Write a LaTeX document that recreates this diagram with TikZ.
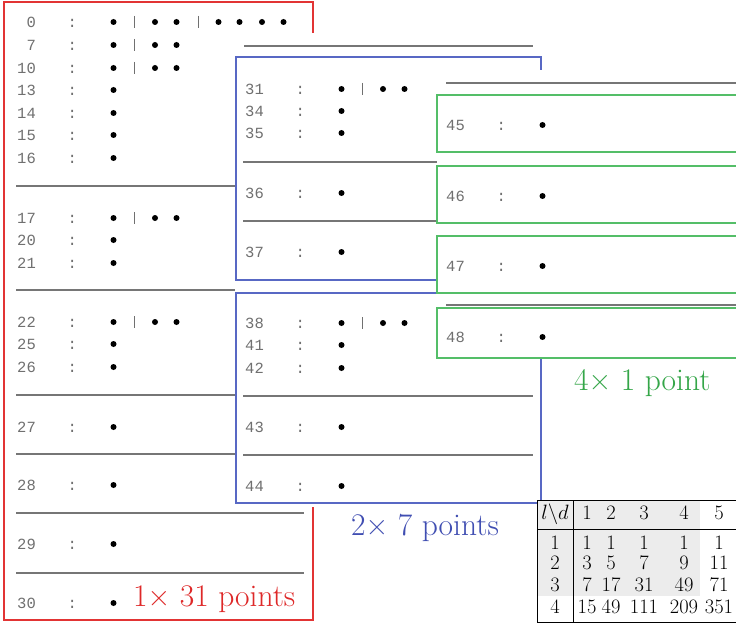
\documentclass[tikz,border=0pt]{standalone}
\usepackage{fontspec}
\newfontfamily\monof{Liberation Mono}
\definecolor{myred}{RGB}{226,52,52}
\definecolor{myredtext}{RGB}{222,40,40}
\definecolor{myblue}{RGB}{88,104,196}
\definecolor{mybluetext}{RGB}{64,78,178}
\definecolor{mygreen}{RGB}{84,190,104}
\definecolor{mygreentext}{RGB}{52,166,72}
\definecolor{monogray}{RGB}{112,112,112}
\definecolor{linegray}{RGB}{118,118,118}
\definecolor{tabshade}{RGB}{236,236,236}
\tikzset{
  mono/.style={inner sep=0pt, anchor=west, text=monogray, font=\monof\fontsize{15.5}{18}\selectfont},
  sepline/.style={draw=linegray, line width=1.8pt},
  barline/.style={draw=monogray, line width=0.9pt},
  redbox/.style={draw=myred, line width=1.6pt},
  bluebox/.style={draw=myblue, line width=1.6pt},
  greenbox/.style={draw=mygreen, line width=2pt},
  biglabel/.style={inner sep=0pt, anchor=base west, font=\fontsize{31.5}{36}\selectfont},
  tab/.style={inner sep=0pt, anchor=base, font=\fontsize{20.5}{24}\selectfont},
  tabrule/.style={draw=black, line width=0.8pt},
}
\newcommand\mrow[4]{%
  \node[mono] (#3) at (#1,#2) {\makebox[50.5pt][l]{#4}:};
  \fill (#1,#2) ++(96.5,0) circle (3pt);}
\newcommand\mgrp[2]{%
  \draw[barline] (#1,#2) ++(117,-6) -- ++(0,12);
  \fill (#1,#2) ++(138,0) circle (3pt);
  \fill (#1,#2) ++(159.5,0) circle (3pt);}
\begin{document}
\begin{tikzpicture}[x=1pt,y=-1pt]
\useasboundingbox (0,0) rectangle (736,623);
\fill[white] (0,0) rectangle (736,623);
% ---------- left panel (red)
\draw[redbox] (4,2) rectangle (313,620);
\mrow{17}{22}{l0}{\phantom{0}0}\mgrp{17}{22}
\draw[barline] (17,22) ++(181,-6) -- ++(0,12);
\fill (17,22) ++(201.5,0) circle (3pt);
\fill (17,22) ++(222.5,0) circle (3pt);
\fill (17,22) ++(245,0) circle (3pt);
\fill (17,22) ++(266.5,0) circle (3pt);
\mrow{17}{45}{l7}{\phantom{0}7}\mgrp{17}{45}
\mrow{17}{68}{l10}{10}\mgrp{17}{68}
\mrow{17}{90}{l13}{13}
\mrow{17}{113}{l14}{14}
\mrow{17}{135}{l15}{15}
\mrow{17}{158}{l16}{16}
\draw[sepline] (16,186) -- (235,186);
\mrow{17}{218}{l17}{17}\mgrp{17}{218}
\mrow{17}{240}{l20}{20}
\mrow{17}{263}{l21}{21}
\draw[sepline] (16,290) -- (235,290);
\mrow{17}{322}{l22}{22}\mgrp{17}{322}
\mrow{17}{344}{l25}{25}
\mrow{17}{367}{l26}{26}
\draw[sepline] (16,395) -- (235,395);
\mrow{17}{427}{l27}{27}
\draw[sepline] (16,454) -- (235,454);
\mrow{17}{485}{l28}{28}
\draw[sepline] (16,513) -- (304,513);
\mrow{17}{544}{l29}{29}
\draw[sepline] (16,573) -- (304,573);
\mrow{17}{603}{l30}{30}
\node[biglabel, text=myredtext] (lab1) at (133,606) {1× 31 points};
% ---------- middle panel (blue)
\fill[white] (236,33) rectangle (545,507);
\draw[sepline] (244,46) -- (533,46);
\draw[bluebox] (236,57) rectangle (541,280);
\mrow{245}{89}{m31}{31}\mgrp{245}{89}
\mrow{245}{111}{m34}{34}
\mrow{245}{133}{m35}{35}
\draw[sepline] (243,162) -- (533,162);
\mrow{245}{193}{m36}{36}
\draw[sepline] (243,221) -- (533,221);
\mrow{245}{252}{m37}{37}
\draw[bluebox] (236,293) rectangle (541,503);
\mrow{245}{323}{m38}{38}\mgrp{245}{323}
\mrow{245}{345}{m41}{41}
\mrow{245}{368}{m42}{42}
\draw[sepline] (243,396) -- (533,396);
\mrow{245}{427}{m43}{43}
\draw[sepline] (243,455) -- (533,455);
\mrow{245}{486}{m44}{44}
\node[biglabel, text=mybluetext] (lab2) at (351,535) {2× 7 points};
% ---------- right panel (green)
\fill[white] (437,70) rectangle (740,359);
\draw[sepline] (446,83) -- (740,83);
\draw[greenbox] (437,95) rectangle (740,152);
\mrow{446}{125}{g45}{45}
\draw[greenbox] (437,166) rectangle (740,223);
\mrow{446}{196}{g46}{46}
\draw[greenbox] (437,236) rectangle (740,293);
\mrow{446}{266}{g47}{47}
\draw[sepline] (446,305) -- (740,305);
\draw[greenbox] (437,308) rectangle (740,358);
\mrow{446}{337}{g48}{48}
\node[biglabel, text=mygreentext] (lab3) at (574,390) {4× 1 point};
% ---------- table
\fill[white] (537,500) rectangle (740,622);
\fill[tabshade] (537,500) rectangle (700,596);
\draw[tabrule] (740,500) -- (537,500) -- (537,622) -- (740,622);
\draw[tabrule] (537,529) -- (740,529);
\draw[tabrule] (573,500) -- (573,622);
\node[tab] (h0) at (555,519.5) {$l\backslash d$};
\node[tab] (h1) at (587,519.5) {1};
\node[tab] (h2) at (611,519.5) {2};
\node[tab] (h3) at (644,519.5) {3};
\node[tab] (h4) at (684,519.5) {4};
\node[tab] (h5) at (719,519.5) {5};
\node[tab] (r10) at (555,549.5) {1};
\node[tab] (r11) at (587,549.5) {1};
\node[tab] (r12) at (611,549.5) {1};
\node[tab] (r13) at (644,549.5) {1};
\node[tab] (r14) at (684,549.5) {1};
\node[tab] (r15) at (719,549.5) {1};
\node[tab] (r20) at (555,569.5) {2};
\node[tab] (r21) at (587,569.5) {3};
\node[tab] (r22) at (611,569.5) {5};
\node[tab] (r23) at (644,569.5) {7};
\node[tab] (r24) at (684,569.5) {9};
\node[tab] (r25) at (719,569.5) {11};
\node[tab] (r30) at (555,591.5) {3};
\node[tab] (r31) at (587,591.5) {7};
\node[tab] (r32) at (611,591.5) {17};
\node[tab] (r33) at (644,591.5) {31};
\node[tab] (r34) at (684,591.5) {49};
\node[tab] (r35) at (719,591.5) {71};
\node[tab] (r40) at (555,613.5) {4};
\node[tab] (r41) at (587,613.5) {15};
\node[tab] (r42) at (611,613.5) {49};
\node[tab] (r43) at (644,613.5) {111};
\node[tab] (r44) at (684,613.5) {209};
\node[tab] (r45) at (719,613.5) {351};
\end{tikzpicture}
\end{document}
